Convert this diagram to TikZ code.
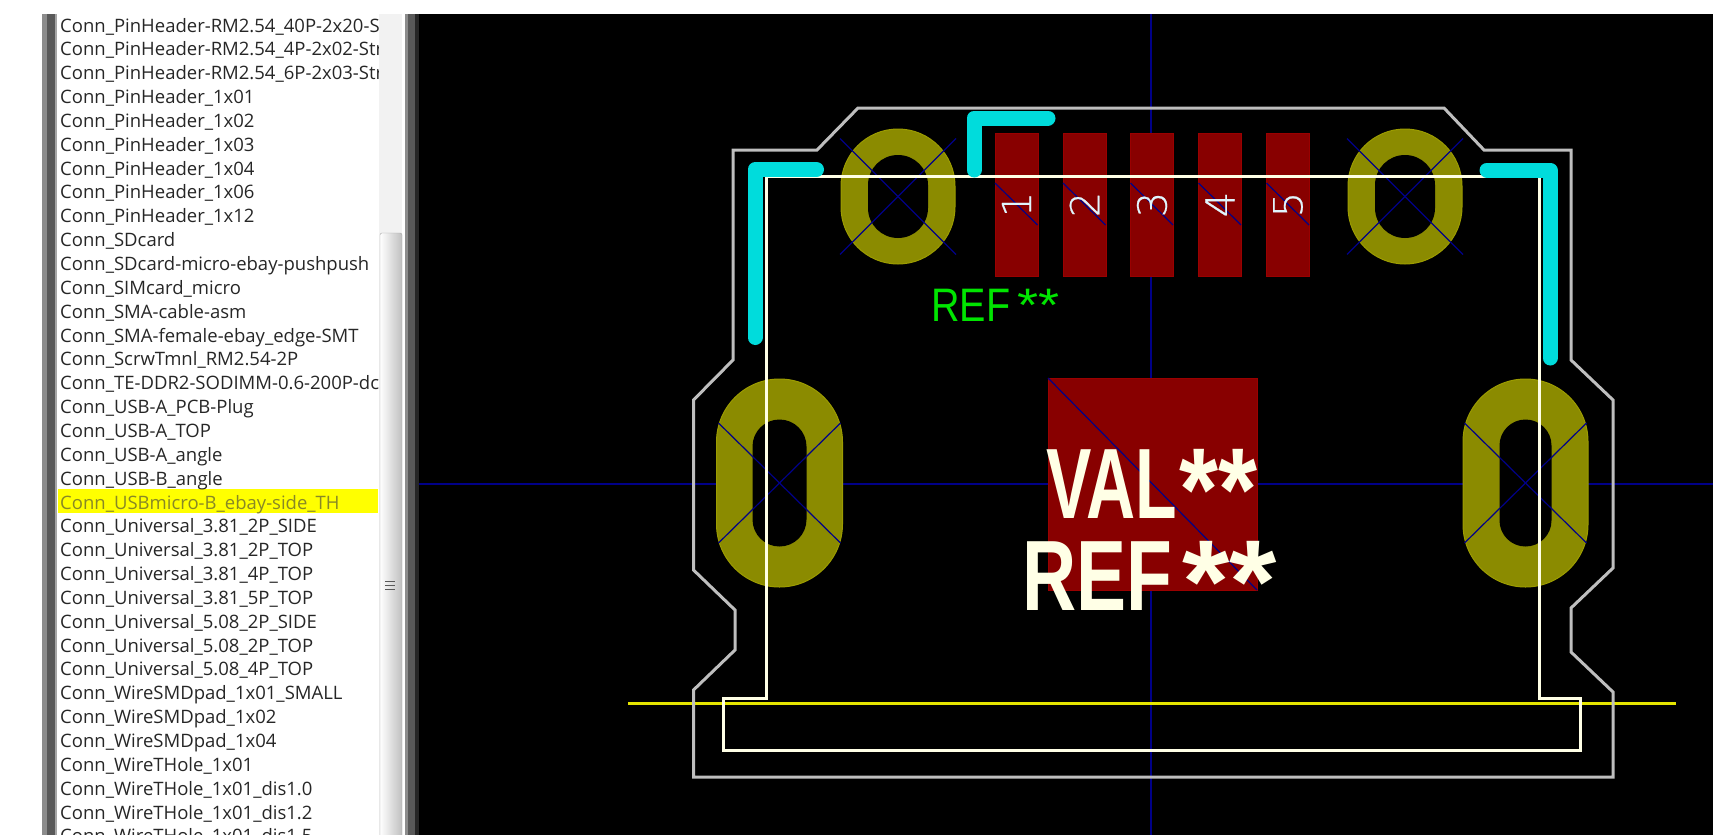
\documentclass[tikz,border=0pt]{standalone}
\usepackage{fontspec}
\usepackage{xcolor}
\setmainfont{Open Sans}
\newfontfamily\silkfont{Liberation Sans}
\newfontfamily\numfont[FakeBold=0.6]{DejaVu Sans ExtraLight}

\definecolor{padolive}{HTML}{8B8B00}
\definecolor{padred}{HTML}{880000}
\definecolor{axisblue}{HTML}{000088}
\definecolor{silkcream}{HTML}{FFFFE6}
\definecolor{cuttrace}{HTML}{00DCDC}
\definecolor{courtgray}{HTML}{BEBEBE}
\definecolor{selyellow}{HTML}{FFFF00}

\tikzset{
  listitem/.style={anchor=base west, inner sep=0pt, text=black!85, font=\fontsize{18.5}{20}\selectfont},
  ovalpad/.style={draw=padolive!85!yellow, fill=padolive, line width=1pt, inner sep=0pt, outer sep=0pt},
  ovalhole/.style={fill=black, inner sep=0pt, outer sep=0pt},
  smdpad/.style={draw=padred!85!red, fill=padred, line width=1pt, inner sep=0pt, outer sep=0pt},
  padcross/.style={draw=axisblue, line width=1.2pt},
  silkline/.style={draw=silkcream, line width=3pt, line join=miter},
  cutline/.style={draw=cuttrace, line width=15pt, line cap=round, line join=round},
  padnum/.style={text=cyan!12!white, rotate=90, inner sep=0pt, font=\numfont\fontsize{40}{40}\selectfont},
  bigsilk/.style={text=silkcream, inner sep=0pt, anchor=base west, font=\silkfont\bfseries\fontsize{100}{100}\selectfont}
}

\newcommand{\bigstars}[1]{\scalebox{#1}[1]{\raisebox{-12pt}[0pt][0pt]{\fontsize{118}{118}\selectfont **}}}

\begin{document}
\begin{tikzpicture}[x=1pt,y=-1pt]
  \useasboundingbox (0,0) rectangle (1727,835);

  % Window frame round the list
  \fill[black] (419,14) rectangle (1713,835);
  \fill[black!45] (42,14) rectangle (47,835);
  \fill[black!65] (47,14) rectangle (55,835);
  \fill[black!35] (55,14) rectangle (57,835);
  \fill[black!45] (405,14) rectangle (408,835);
  \fill[black!65] (408,14) rectangle (415,835);
  \fill[black!85] (415,14) rectangle (419,835);

  % Scrollbar
  \fill[black!5] (379,14) rectangle (402,835);
  \draw[draw=black!35, left color=white, right color=black!25, rounded corners=2pt] (380,233) rectangle (402,840);
  \foreach \y in {581,585,589}
    \draw[black!65, line width=1pt] (385,\y) -- (395,\y);

  % Footprint list
  \fill[selyellow] (58,489) rectangle (378,513);
  \begin{scope}
    \clip (57,14) rectangle (378,835);
    \foreach \name [count=\i from 0] in {
      Conn\_PinHeader-RM2.54\_40P-2x20-Straight,
      Conn\_PinHeader-RM2.54\_4P-2x02-Straight,
      Conn\_PinHeader-RM2.54\_6P-2x03-Straight,
      Conn\_PinHeader\_1x01,
      Conn\_PinHeader\_1x02,
      Conn\_PinHeader\_1x03,
      Conn\_PinHeader\_1x04,
      Conn\_PinHeader\_1x06,
      Conn\_PinHeader\_1x12,
      Conn\_SDcard,
      Conn\_SDcard-micro-ebay-pushpush,
      Conn\_SIMcard\_micro,
      Conn\_SMA-cable-asm,
      Conn\_SMA-female-ebay\_edge-SMT,
      Conn\_ScrwTmnl\_RM2.54-2P,
      Conn\_TE-DDR2-SODIMM-0.6-200P-dc,
      Conn\_USB-A\_PCB-Plug,
      Conn\_USB-A\_TOP,
      Conn\_USB-A\_angle,
      Conn\_USB-B\_angle}
      \node[listitem] (item\i) at (60,32+23.85*\i) {\name};
    \node[listitem, text=padolive!70!gray] (itemsel) at (60,32+23.85*20) {Conn\_USBmicro-B\_ebay-side\_TH};
    \foreach \name [count=\i from 21] in {
      Conn\_Universal\_3.81\_2P\_SIDE,
      Conn\_Universal\_3.81\_2P\_TOP,
      Conn\_Universal\_3.81\_4P\_TOP,
      Conn\_Universal\_3.81\_5P\_TOP,
      Conn\_Universal\_5.08\_2P\_SIDE,
      Conn\_Universal\_5.08\_2P\_TOP,
      Conn\_Universal\_5.08\_4P\_TOP,
      Conn\_WireSMDpad\_1x01\_SMALL,
      Conn\_WireSMDpad\_1x02,
      Conn\_WireSMDpad\_1x04,
      Conn\_WireTHole\_1x01,
      Conn\_WireTHole\_1x01\_dis1.0,
      Conn\_WireTHole\_1x01\_dis1.2,
      Conn\_WireTHole\_1x01\_dis1.5}
      \node[listitem] (item\i) at (60,32+23.85*\i) {\name};
  \end{scope}

  % Axes
  \draw[axisblue, line width=1.5pt] (1151,14) -- (1151,835);
  \draw[axisblue, line width=1.5pt] (419,484) -- (1713,484);

  % Row of SMD pads
  \foreach \i/\x in {1/1016.5,2/1084.5,3/1152,4/1220,5/1288} {
    \node[smdpad, minimum width=43pt, minimum height=143pt] (smd\i) at (\x,204.5) {};
    \draw[padcross] (\x-21.5,183) -- (\x+21,225);
  }

  % Big pad
  \node[smdpad, minimum width=209pt, minimum height=212pt] (bigpad) at (1152.5,484) {};
  \draw[padcross] (bigpad.north west) -- (bigpad.south east);

  % Oval through hole pads
  \foreach \name/\x/\y/\w/\h/\hw/\hh/\cw/\ch in {
    a/898/196.5/114/135/60/83/58/58,
    b/1405/196.5/114/135/60/83/58/58,
    c/779.5/483/126/208/54/127/61/60,
    d/1525.5/483/125/208/52/127/61/60} {
    \node[ovalpad, minimum width=\w pt, minimum height=\h pt, rounded corners=0.5*\w pt] (pad\name) at (\x,\y) {};
    \node[ovalhole, minimum width=\hw pt, minimum height=\hh pt, rounded corners=0.5*\hw pt] (hole\name) at (\x,\y) {};
    \draw[padcross] (\x-\cw,\y-\ch) -- (\x+\cw,\y+\ch);
    \draw[padcross] (\x+\cw,\y-\ch) -- (\x-\cw,\y+\ch);
  }

  % Yellow edge line
  \draw[selyellow!90!black, line width=3pt] (628,703) -- (1676,703);

  % Courtyard
  \draw[courtgray, line width=3pt] (733,150) -- (817,150) -- (858,108) -- (1444,108) -- (1484,150) -- (1571,150)
    -- (1571,360) -- (1613,400) -- (1613,568) -- (1571,608) -- (1571,652) -- (1613,692) -- (1613,777)
    -- (693.5,777) -- (693.5,690) -- (735,650) -- (735,610) -- (693.5,570) -- (693.5,400) -- (733,360) -- cycle;

  % Body outline
  \draw[silkline] (766,176) -- (766,698) -- (723,698) -- (723,750) -- (1580,750) -- (1580,698) -- (1539.5,698) -- (1539.5,176) -- cycle;

  % Cyan corners
  \draw[cutline] (816.5,169.5) -- (755,169.5) -- (755,337.5);
  \draw[cutline] (1048,118) -- (974,118) -- (974,170);
  \draw[cutline] (1487,170) -- (1550,170) -- (1550,358);

  % Texts
  \foreach \i in {1,...,5}
    \node[padnum] (num\i) at (smd\i.center) {\i};
  \node[text=green!90!black, inner sep=0pt, anchor=base west, font=\silkfont\fontsize{47}{47}\selectfont] (refgreen) at (931,321) {\scalebox{.84}[1]{REF}\hspace{7pt}\scalebox{1.15}[1]{**}};
  \node[bigsilk] (valtext) at (1046,518) {\scalebox{.68}[1]{VAL}\hspace{2pt}\bigstars{.85}};
  \node[bigsilk] (reftext) at (1022.5,610) {\scalebox{.75}[1]{REF}\hspace{10pt}\bigstars{1.03}};
\end{tikzpicture}
\end{document}
